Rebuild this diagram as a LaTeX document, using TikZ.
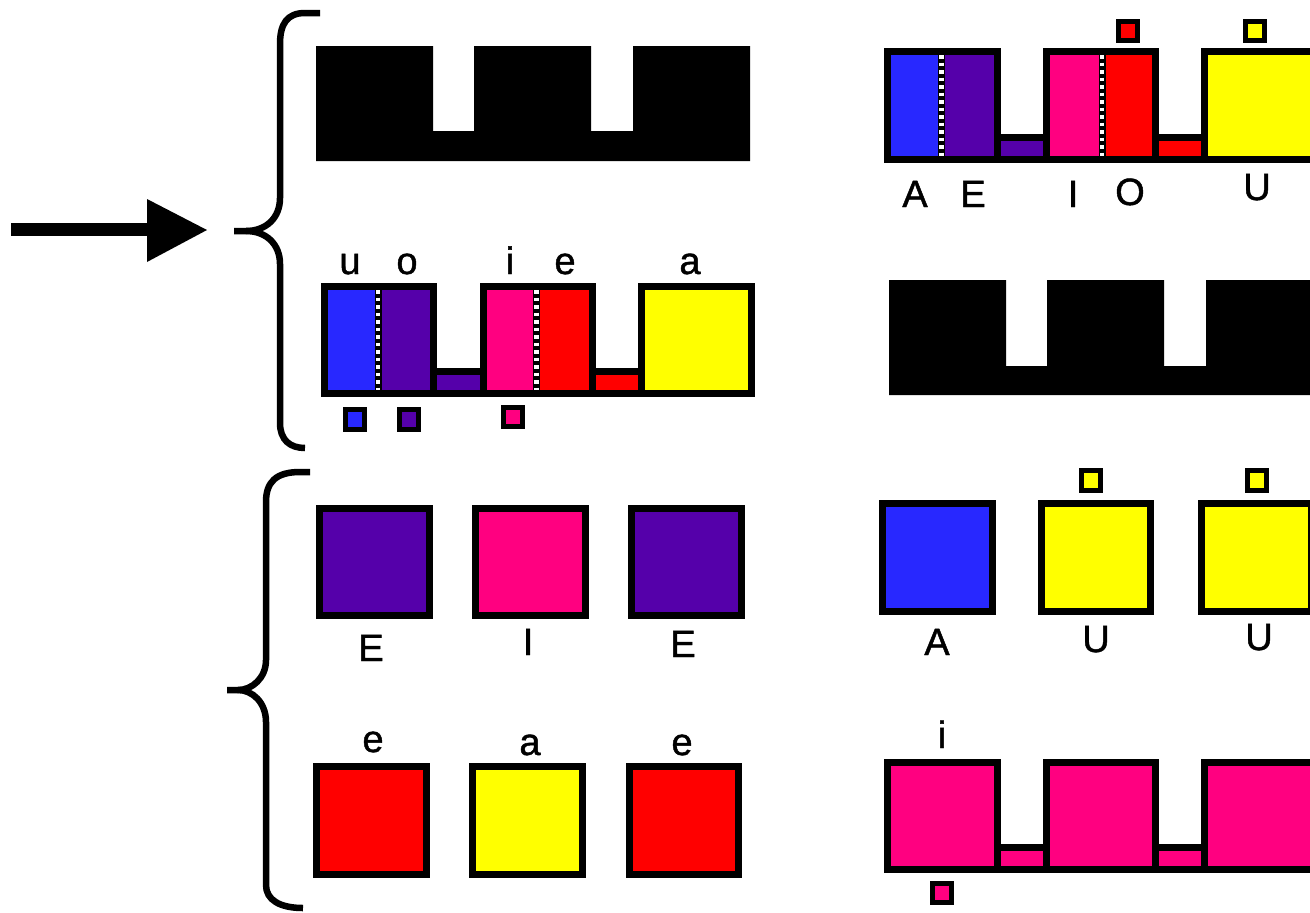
\documentclass[tikz,border=0pt]{standalone}
\usepackage{fontspec}
\setmainfont{Liberation Sans}
\newfontfamily\lblfont{Liberation Sans}[FakeBold=1.2]
\definecolor{vblue}{RGB}{40,40,255}
\definecolor{vpurple}{RGB}{85,0,170}
\definecolor{vpink}{RGB}{255,0,128}
\definecolor{vred}{RGB}{255,0,0}
\definecolor{vyellow}{RGB}{255,255,0}
\tikzset{
  frame/.style={draw=black, line width=7bp},
  tinysq/.style={draw=black, line width=5bp},
  lbl/.style={anchor=base, inner sep=0pt, font=\lblfont\fontsize{38bp}{40bp}\selectfont},
  bracestyle/.style={draw=black, line width=6.5bp, line cap=butt, line join=round},
  sepline/.style={draw=black, line width=7bp},
  sepdash/.style={draw=white, line width=4.5bp, dash pattern=on 3.5bp off 4bp},
  comb/.style={fill=black}
}
% outer x1 y1 x2 y2 colour
\newcommand{\FBox}[5]{\path[frame, fill=#5] ({#1+3.5},{#2+3.5}) rectangle ({#3-3.5},{#4-3.5});}
% outer x1 y1 x2 y2 split colL colR
\newcommand{\SBox}[7]{%
  \fill[#6] (#1,#2) rectangle (#5,#4);
  \fill[#7] (#5,#2) rectangle (#3,#4);
  \path[sepline] (#5,#2) -- (#5,#4);
  \path[sepdash] (#5,{#2+7}) -- (#5,{#4-7});
  \path[frame] ({#1+3.5},{#2+3.5}) rectangle ({#3-3.5},{#4-3.5});}
\newcommand{\TSq}[5]{\path[tinysq, fill=#5] ({#1+2.5},{#2+2.5}) rectangle ({#3-2.5},{#4-2.5});}
\begin{document}
\begin{tikzpicture}[x=1bp, y=-1bp]
\useasboundingbox (0,0) rectangle (1310,912);
\clip (0,0) rectangle (1310,912);

% arrow
\coordinate (arrS) at (11,229);
\coordinate (arrE) at (150,229);
\coordinate (arrT) at (207,230);
\draw[line width=13bp] (arrS) -- (arrE);
\fill (147,199) -- (arrT) -- (147,262) -- cycle;

% braces
\path[bracestyle] (320,13) -- (305,13) .. controls (287,13) and (280,24) .. (280,44) -- (280,198)
  .. controls (280,218) and (266,231) .. (246,231) -- (234,231);
\path[bracestyle] (246,231) .. controls (266,231) and (280,244) .. (280,264) -- (280,423)
  .. controls (280,440) and (290,448) .. (305,448);
\path[bracestyle] (310,472) -- (300,472) .. controls (276,472) and (266,482) .. (266,502) -- (266,660)
  .. controls (266,678) and (252,690) .. (238,690) -- (227,690);
\path[bracestyle] (238,690) .. controls (252,690) and (266,702) .. (266,722) -- (266,885)
  .. controls (266,900) and (280,908) .. (303,908);

% black combs
\path[comb] (316,46) -- (433,46) -- (433,131) -- (474,131) -- (474,46) -- (591,46) -- (591,131)
  -- (633,131) -- (633,46) -- (750,46) -- (750,161) -- (316,161) -- cycle;
\path[comb] (889,280) -- (1006,280) -- (1006,366) -- (1047,366) -- (1047,280) -- (1164,280)
  -- (1164,366) -- (1206,366) -- (1206,280) -- (1320,280) -- (1320,395) -- (889,395) -- cycle;

% top-right comb
\FBox{994}{134}{1050}{163}{vpurple}
\FBox{1152}{134}{1208}{163}{vred}
\SBox{884}{48}{1001}{163}{941.5}{vblue}{vpurple}
\SBox{1043}{48}{1159}{163}{1102}{vpink}{vred}
\FBox{1201}{48}{1318}{163}{vyellow}
\TSq{1116}{19}{1140}{43}{vred}
\TSq{1243}{19}{1267}{43}{vyellow}
\node[lbl] (tA) at (915,207) {A};
\node[lbl] (tE) at (973,207) {E};
\node[lbl] (tI) at (1073,207) {I};
\node[lbl] (tO) at (1130,205) {O};
\node[lbl] (tU) at (1257,200) {U};

% middle-left comb
\FBox{430}{368}{487}{397}{vpurple}
\FBox{589}{368}{645}{397}{vred}
\SBox{321}{283}{437}{397}{378}{vblue}{vpurple}
\SBox{480}{283}{596}{397}{536.7}{vpink}{vred}
\FBox{638}{283}{755}{397}{vyellow}
\TSq{343}{407}{367}{432}{vblue}
\TSq{397}{407}{421}{432}{vpurple}
\TSq{501}{405}{525}{429}{vpink}
\node[lbl] (mu) at (350,274) {u};
\node[lbl] (mo) at (407,274) {o};
\node[lbl] (mi) at (510,274) {i};
\node[lbl] (me) at (565,274) {e};
\node[lbl] (ma) at (690,274) {a};

% third row left
\FBox{316}{505}{433}{619}{vpurple}
\FBox{472}{505}{589}{619}{vpink}
\FBox{628}{505}{745}{619}{vpurple}
\node[lbl] (r3E1) at (371,661) {E};
\node[lbl] (r3I) at (528,655) {I};
\node[lbl] (r3E2) at (683,657) {E};

% third row right
\FBox{879}{500}{996}{615}{vblue}
\FBox{1038}{500}{1154}{615}{vyellow}
\FBox{1198}{500}{1315}{615}{vyellow}
\TSq{1079}{468}{1103}{493}{vyellow}
\TSq{1245}{468}{1269}{493}{vyellow}
\node[lbl] (r3A) at (937,655) {A};
\node[lbl] (r3U1) at (1096,652) {U};
\node[lbl] (r3U2) at (1259,650) {U};

% fourth row left
\FBox{313}{763}{430}{878}{vred}
\FBox{469}{763}{586}{878}{vyellow}
\FBox{626}{763}{742}{878}{vred}
\node[lbl] (r4e1) at (373,752) {e};
\node[lbl] (r4a) at (530,755) {a};
\node[lbl] (r4e2) at (682,755) {e};

% bottom-right comb
\FBox{994}{844}{1050}{873}{vpink}
\FBox{1152}{844}{1208}{873}{vpink}
\FBox{884}{759}{1001}{873}{vpink}
\FBox{1043}{759}{1159}{873}{vpink}
\FBox{1201}{759}{1318}{873}{vpink}
\TSq{930}{881}{954}{905}{vpink}
\node[lbl] (bi) at (942,748) {i};
\end{tikzpicture}
\end{document}
